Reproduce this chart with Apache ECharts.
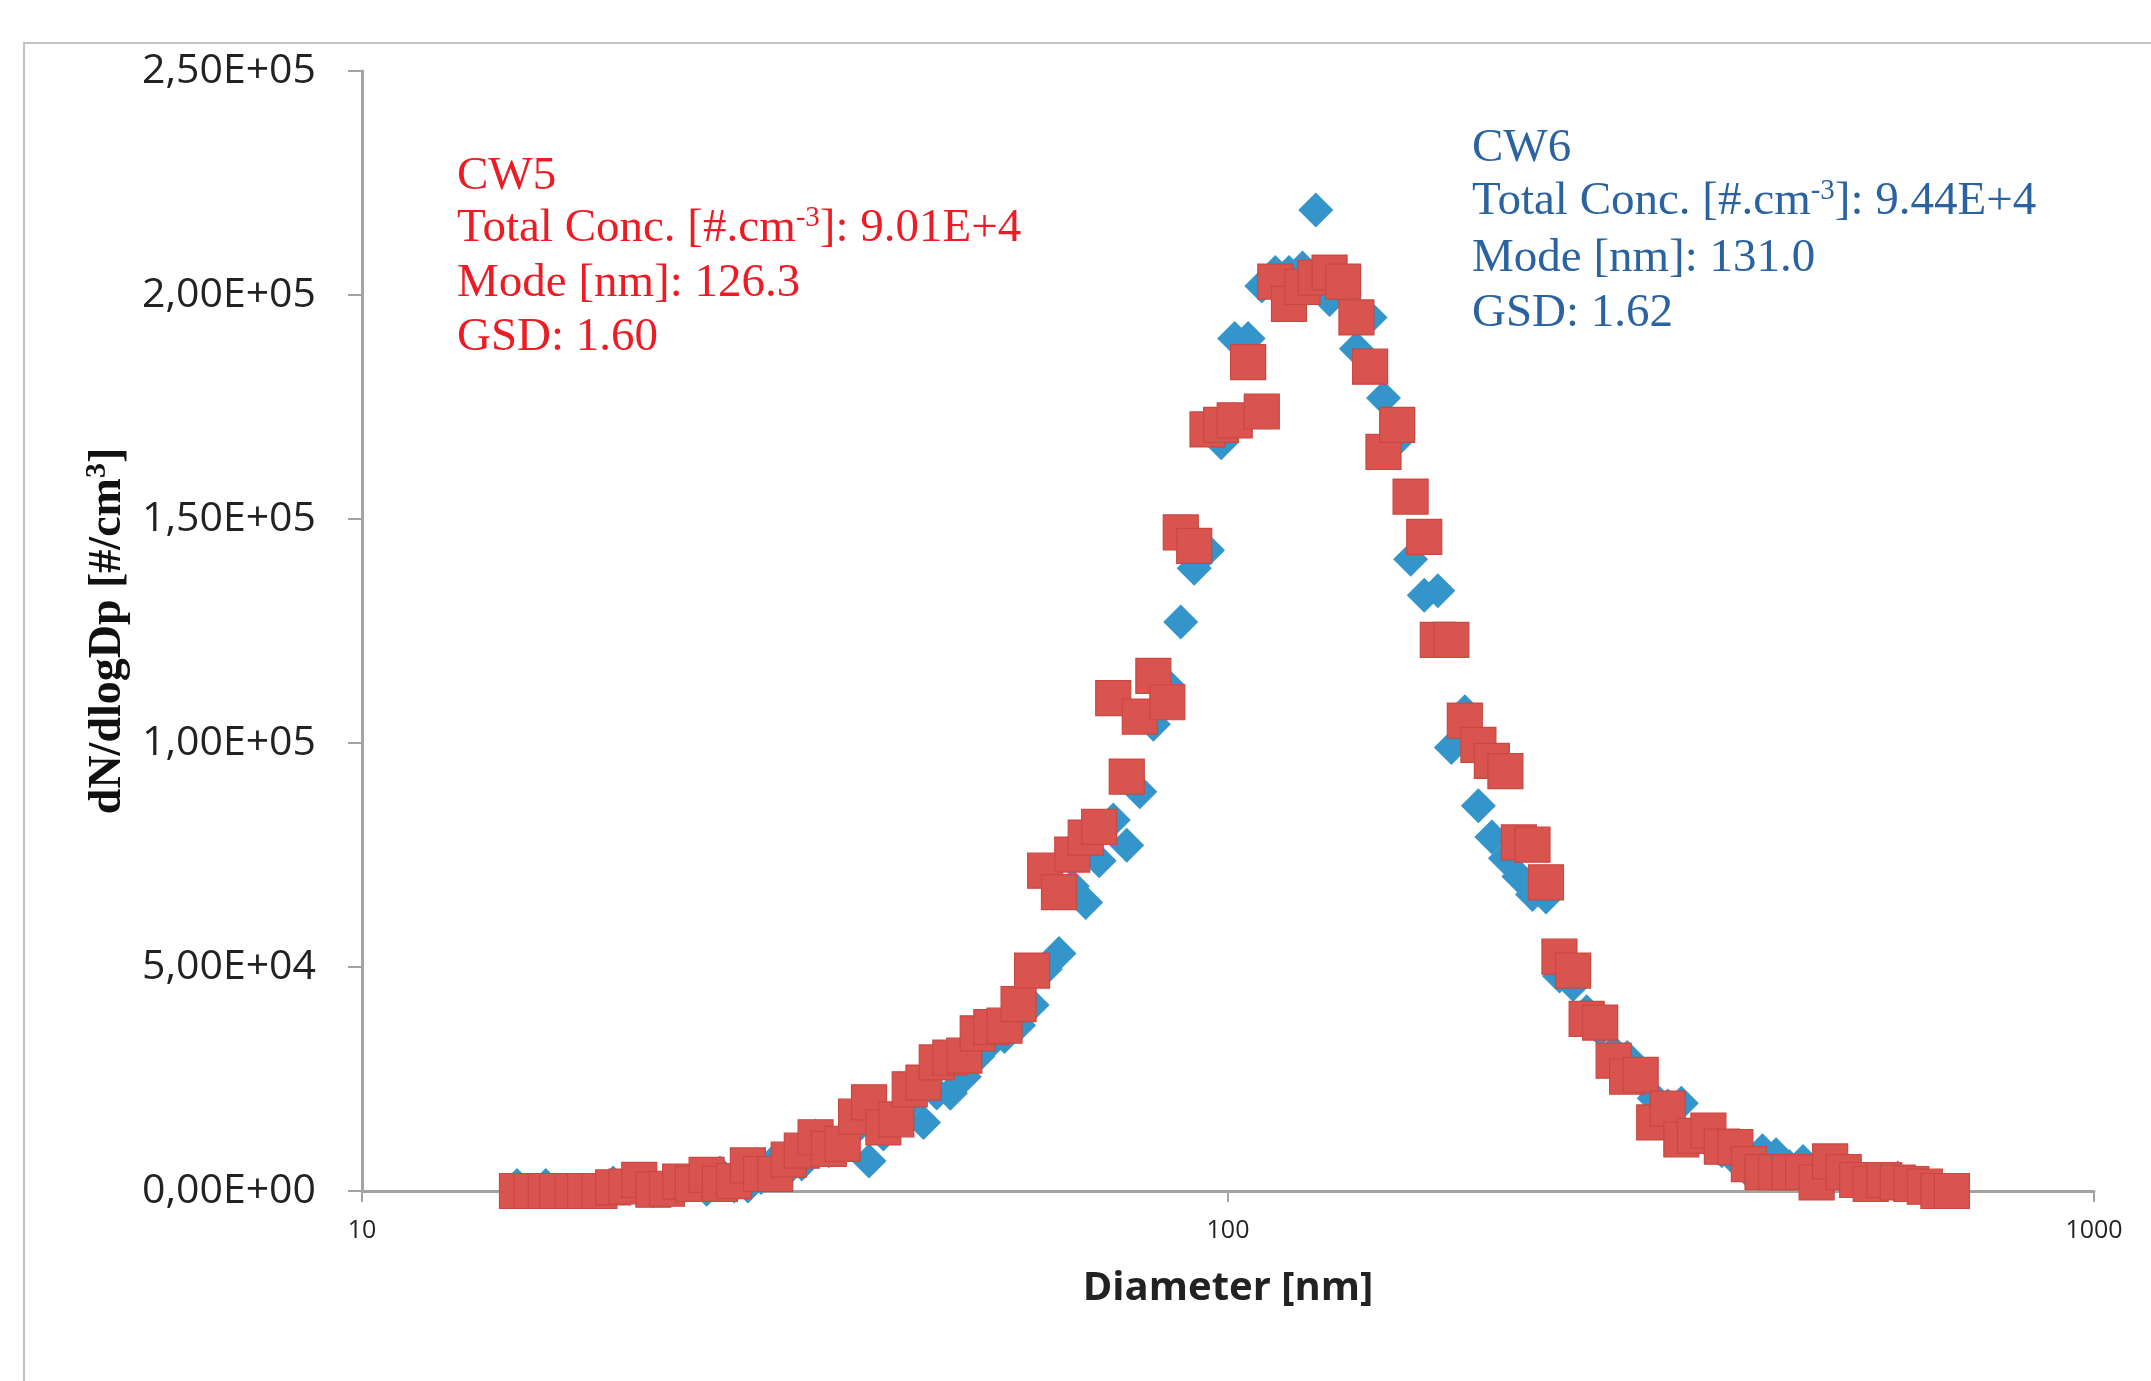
<!DOCTYPE html>
<html><head><meta charset="utf-8">
<script src="https://cdn.jsdelivr.net/npm/echarts@6/dist/echarts.min.js"></script>
<style>html,body{margin:0;padding:0;background:#fff}#c{width:2151px;height:1381px}</style>
</head><body><div id="c"></div>
<script>
// Diameter channels [nm]
const diameters = [15.1,15.7,16.3,16.8,17.5,18.1,18.8,19.5,20.2,20.9,
21.7,22.5,23.3,24.1,25.0,25.9,26.9,27.9,28.9,30.0,
31.1,32.2,33.4,34.6,35.9,37.2,38.5,40.0,41.4,42.9,
44.5,46.1,47.8,49.6,51.4,53.3,55.2,57.3,59.4,61.5,
63.8,66.1,68.5,71.0,73.7,76.4,79.1,82.0,85.1,88.2,
91.4,94.7,98.2,101.8,105.5,109.4,113.4,117.6,121.9,126.3,
131.0,135.8,140.7,145.9,151.2,156.8,162.5,168.5,174.7,181.1,
187.7,194.6,201.7,209.1,216.7,224.7,232.9,241.4,250.3,259.5,
269.0,278.8,289.0,299.6,310.6,322.0,333.8,346.0,358.7,371.8,
385.4,399.5,414.2,429.4,445.1,461.4,478.3,495.8,514.0,532.8,
552.3,572.5,593.5,615.3,637.8,661.2,685.4];

// CW5 dN/dlogDp (red squares)
const cw5 = [0,0,0,0,0,0,0,800,1000,2500,
300,500,2100,1600,3600,1600,2200,5700,3800,3800,
7000,9000,12000,9400,10500,16600,19800,14200,16000,22700,
24200,28700,29800,30200,35200,36600,36900,41700,49200,71500,
66700,75100,78900,81300,110000,92500,105900,115000,109100,147000,
144000,170000,171000,172000,185000,174000,203000,198000,201800,203900,
205000,203000,195000,184000,165000,171000,155000,146000,123000,123000,
105000,99600,96000,93700,77800,77300,68900,52300,49200,38400,
37600,29100,25500,25900,15300,18400,11500,12300,13500,9900,
9800,6000,4200,4200,4200,4200,1900,6600,4200,2450,
1560,2450,1900,1560,970,0,0];

// CW6 dN/dlogDp (blue diamonds)
const cw6 = [1200,0,1200,0,0,0,0,1800,1000,800,
0,800,500,1500,400,4000,1100,1100,3000,6900,
5000,6000,12300,9000,10000,14000,6700,12700,16000,20000,
15300,21900,21800,25500,30000,33300,34500,37000,41500,49500,
53000,68000,64400,73700,82800,77200,89100,104200,113000,127000,
139000,143000,167000,190300,190300,202000,205000,205000,206000,219000,
199000,203000,188000,195000,177000,167600,141000,133000,134000,99000,
107000,86000,79000,74300,70200,66200,65600,48000,46100,40000,
36000,31000,29800,25000,20700,19000,19600,13000,11000,9000,
7000,4300,9000,8100,5400,6600,4000,3500,3000,1560,
2000,2000,2900,1900,1000,500,0];

const yTickLabels = ['0,00E+00','5,00E+04','1,00E+05','1,50E+05','2,00E+05','2,50E+05'];
const xTickLabels = {10:'10',100:'100',1000:'1000'};

const cw5Lines = ['CW5', 'Total Conc. [#.cm{s|-3}]: 9.01E+4', 'Mode [nm]: 126.3', 'GSD: 1.60'];
const cw6Lines = ['CW6', 'Total Conc. [#.cm{s|-3}]: 9.44E+4', 'Mode [nm]: 131.0', 'GSD: 1.62'];

const chart = echarts.init(document.getElementById('c'), null, {renderer:'canvas'});
const axisColor = '#a3a3a3';
const serif = '"Liberation Serif", "Times New Roman", serif';

function toRich(t){
  const m = t.match(/^(.*)\{s\|([^}]*)\}(.*)$/);
  if (m) return '{n|' + m[1] + '}{s|' + m[2] + '}{n|' + m[3] + '}';
  return '{n|' + t + '}';
}
function annot(lines, x, y0, step, color){
  return lines.map((t, i) => {
    const hasSup = t.indexOf('{s|') >= 0;
    return {
      type:'text', left:x, top: y0 + i*step - (hasSup ? 5 : 0), z:100,
      style:{
        text: toRich(t),
        rich:{
          n:{fontFamily:serif, fontSize:47, fill:color, color:color, lineHeight:54},
          s:{fontFamily:serif, fontSize:29, fill:color, color:color, lineHeight:54, verticalAlign:'top', padding:[2,0,0,0]}
        }
      }
    };
  });
}

const option = {
  animation:false,
  backgroundColor:'#ffffff',
  grid:{left:362, right:57, top:71, bottom:190, containLabel:false},
  xAxis:{
    type:'log', logBase:10, min:10, max:1000,
    axisLine:{show:true, lineStyle:{color:axisColor, width:3}},
    axisTick:{show:true, length:11, lineStyle:{color:axisColor, width:2}},
    minorTick:{show:false},
    splitLine:{show:false},
    axisLabel:{fontFamily:'"Open Sans", sans-serif', fontSize:25, color:'#222', margin:27,
      formatter:v => xTickLabels[Math.round(v)] || ''},
    name:'Diameter [nm]', nameLocation:'middle', nameGap:78,
    nameTextStyle:{fontFamily:'"Open Sans", sans-serif', fontSize:40, fontWeight:'bold', color:'#222'}
  },
  yAxis:{
    type:'value', min:0, max:250000, interval:50000,
    axisLine:{show:true, lineStyle:{color:axisColor, width:3}},
    axisTick:{show:true, length:14, lineStyle:{color:axisColor, width:2}},
    splitLine:{show:false},
    axisLabel:{fontFamily:'"Open Sans", sans-serif', fontSize:41, color:'#222', margin:46,
      formatter:v => yTickLabels[Math.round(v/50000)]},
    name:'{a|dN/dlogDp [#/cm}{s|3}{a|]}', nameLocation:'middle', nameRotate:90, nameGap:221,
    nameTextStyle:{
      rich:{
        a:{fontFamily:serif, fontSize:46, fontWeight:'bold', color:'#111', lineHeight:52},
        s:{fontFamily:serif, fontSize:30, fontWeight:'bold', color:'#111', lineHeight:52, verticalAlign:'top'}
      }
    }
  },
  graphic:[
    {type:'rect', shape:{x:24, y:43, width:2300, height:1500}, style:{fill:null, stroke:'#c2c2c2', lineWidth:2}, z:-10, silent:true}
  ].concat(annot(cw5Lines, 457, 153.5, 53.5, '#ED1C24')).concat(annot(cw6Lines, 1472, 125, 55, '#2A63A0')),
  series:[
    {name:'CW6', type:'scatter', symbol:'diamond', symbolSize:35,
      itemStyle:{color:'#3395CA', opacity:1},
      data: diameters.map((d,i)=>[d, cw6[i]]), z:2},
    {name:'CW5', type:'scatter', symbol:'rect', symbolSize:35,
      itemStyle:{color:'#D9544F', opacity:1, borderColor:'#c94842', borderWidth:1.2},
      data: diameters.map((d,i)=>[d, cw5[i]]), z:3}
  ]
};
chart.setOption(option);
</script></body></html>
